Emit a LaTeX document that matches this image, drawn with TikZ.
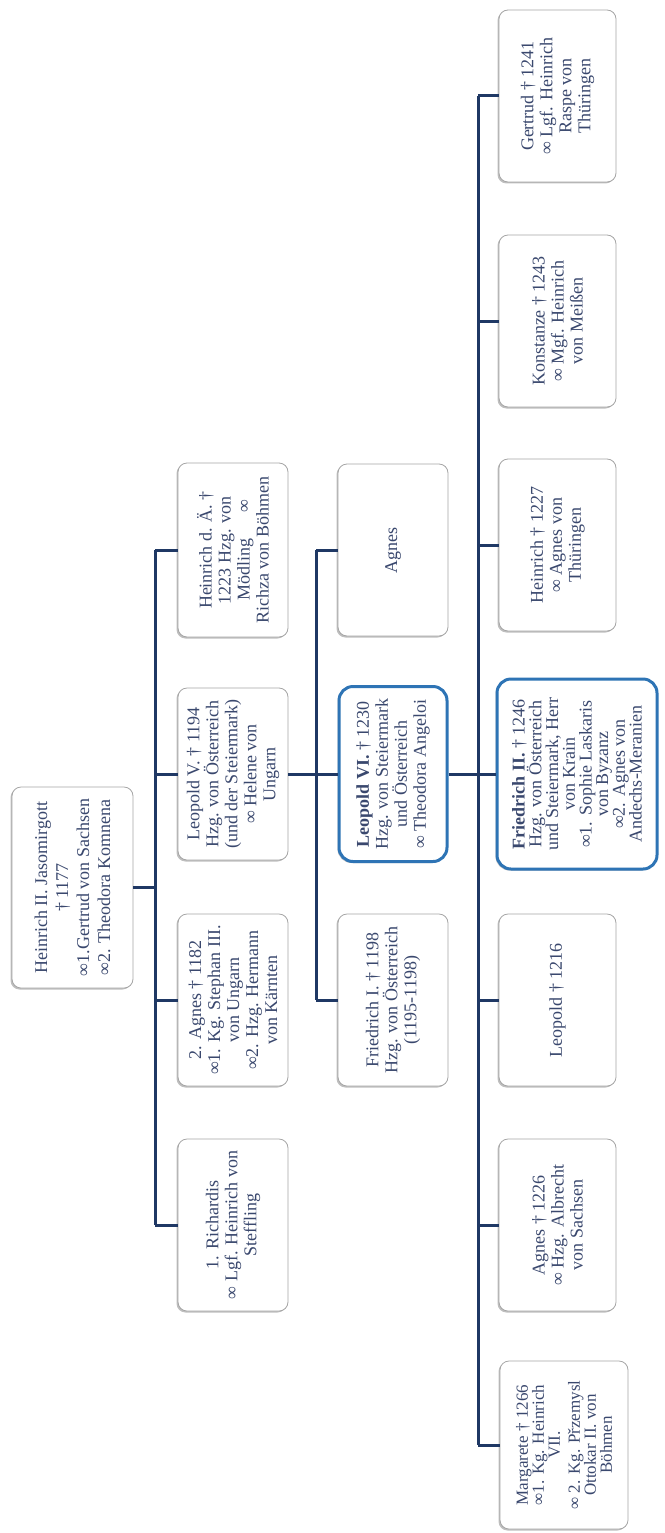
\documentclass[tikz,border=0pt]{standalone}
\usepackage{fontspec}
\setmainfont{Liberation Serif}
\usetikzlibrary{shadows}
\definecolor{TreeLine}{RGB}{31,56,100}
\definecolor{TreeText}{RGB}{58,72,110}
\definecolor{TreeFrame}{RGB}{165,165,165}
\definecolor{TreeMark}{RGB}{46,116,181}

\begin{document}
\begin{tikzpicture}[x=1pt,y=-1pt,
  pers/.style n args={2}{rectangle,rotate=90,draw=TreeFrame,line width=0.8pt,fill=white,
    rounded corners=9pt,minimum width=#1,minimum height=#2,inner sep=0pt,align=center,
    text=TreeText,font=\fontsize{18}{19}\selectfont,
    drop shadow={shadow xshift=-1.5pt,shadow yshift=-1.5pt,fill=black,opacity=0.25}},
  hlbox/.style={draw=TreeMark,line width=3pt,rounded corners=14pt},
  lnk/.style={draw=TreeLine,line width=3pt}]
\useasboundingbox (0,0) rectangle (664,1533);
% generation 0
\node[pers={201}{121},font=\fontsize{18}{21}\selectfont] (root) at (72.5,887.5)
  {Heinrich II. Jasomirgott\\† 1177\\∞1.Gertrud von Sachsen\\∞2. Theodora Komnena};
% generation 1
\node[pers={174}{110}] (hda) at (233,550)
  {Heinrich d. Ä. †\\1223 Hzg. von\\Mödling\hspace{26pt}∞\\Richza von Böhmen};
\node[pers={172}{110}] (leo5) at (233,774)
  {Leopold V. † 1194\\Hzg. von Österreich\\(und der Steiermark)\\∞ Helene von\\Ungarn};
\node[pers={172}{110}] (agn2) at (233,1000)
  {2. Agnes † 1182\\∞1. Kg. Stephan III.\\von Ungarn\\∞2. Hzg. Hermann\\von Kärnten};
\node[pers={172}{110}] (rich) at (233,1225)
  {1. Richardis\\∞ Lgf. Heinrich von\\Steffling};
% generation 2
\node[pers={172}{110}] (agn) at (393,550) {Agnes};
\node[pers={175}{108},hlbox] (leo6) at (393,774)
  {\textbf{Leopold VI.} † 1230\\Hzg. von Steiermark\\und Österreich\\∞ Theodora Angeloi};
\node[pers={172}{110}] (fri1) at (393,1000)
  {Friedrich I. † 1198\\Hzg. von Österreich\\(1195-1198)};
% generation 3
\node[pers={172}{117}] (gert) at (557.5,96)
  {Gertrud † 1241\\∞ Lgf. Heinrich\\Raspe von\\Thüringen};
\node[pers={172}{117}] (konst) at (557.5,321)
  {Konstanze † 1243\\∞ Mgf. Heinrich\\von Meißen};
\node[pers={172}{117}] (hein) at (557.5,545)
  {Heinrich † 1227\\∞ Agnes von\\Thüringen};
\node[pers={190}{160},hlbox,font=\fontsize{18}{16.7}\selectfont] (fri2) at (577,774)
  {\textbf{Friedrich II.} † 1246\\Hzg. von Österreich\\und Steiermark, Herr\\von Krain\\∞1. Sophie Laskaris\\von Byzanz\\∞2. Agnes von\\Andechs-Meranien};
\node[pers={172}{117}] (leo) at (557.5,1000) {Leopold † 1216};
\node[pers={172}{117}] (agn3) at (557.5,1225)
  {Agnes † 1226\\∞ Hzg. Albrecht\\von Sachsen};
\node[pers={168}{128},font=\fontsize{17}{16}\selectfont] (marg) at (564,1445)
  {Margarete † 1266\\∞1. Kg. Heinrich\\VII.\\[4pt]∞ 2. Kg. Přzemysl\\Ottokar II. von\\Böhmen};
% connectors
\coordinate (j1) at (155,887.5);
\coordinate (j2) at (316,774);
\coordinate (j3) at (478,774);
\draw[lnk] (j1 |- hda) -- (j1 |- rich);
\draw[lnk] (root) -- (j1);
\foreach \n in {hda,leo5,agn2,rich} {
  \draw[lnk] (j1 |- \n) -- (\n);
}
\draw[lnk] (j2 |- agn) -- (j2 |- fri1);
\draw[lnk] (leo5) -- (j2);
\foreach \n in {agn,leo6,fri1} {
  \draw[lnk] (j2 |- \n) -- (\n);
}
\draw[lnk] (j3 |- gert) -- (j3 |- marg);
\draw[lnk] (leo6) -- (j3);
\foreach \n in {gert,konst,hein,fri2,leo,agn3,marg} {
  \draw[lnk] (j3 |- \n) -- (\n);
}
\end{tikzpicture}
\end{document}
